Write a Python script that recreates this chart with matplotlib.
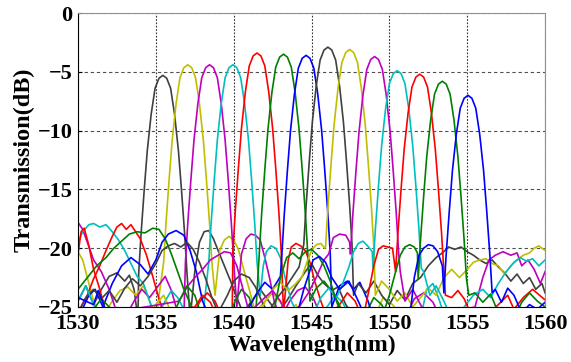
import matplotlib.pyplot as plt
import numpy as np

plt.rcParams['font.family'] = ['Liberation Serif', 'DejaVu Serif']
plt.rcParams['font.weight'] = 'bold'

# peak centre (nm) and peak level (dB) of each channel
centers = [1535.45, 1537.05, 1538.45, 1539.95, 1541.5, 1543.2, 1544.65,
           1546.05, 1547.45, 1549.05, 1550.5, 1551.95, 1553.4, 1555.05]
peaks = [-5.3, -4.4, -4.4, -4.4, -3.4, -3.5, -3.6,
         -2.9, -3.1, -3.7, -4.9, -5.2, -5.8, -7.0]

# passband shape: offset from centre (nm) -> drop below peak (dB)
shape_off = [-1.55, -1.4, -1.2, -1.0, -0.75, -0.5, -0.25, 0, 0.25, 0.5, 0.75, 1.0, 1.2, 1.4, 1.55]
shape_drop = [16.8, 13.5, 9.8, 6.4, 3.3, 1.1, 0.25, 0, 0.25, 1.1, 3.3, 6.4, 9.8, 13.5, 16.8]

# noise floor / sidelobes left and right of each passband
ch01_lw = [1530, 1530.5, 1531, 1531.5, 1532, 1532.5, 1533, 1533.3, 1533.6, 1533.85]
ch01_ld = [-24.5, -23.2, -24.8, -23.5, -22.4, -22.1, -22.8, -22.3, -23.5, -26]
ch01_rw = [1537.2, 1537.5, 1537.8, 1538.1, 1538.4, 1538.7, 1539.0, 1539.4, 1539.8, 1540.2, 1540.6,
           1541.2, 1541.7, 1542.2, 1542.8, 1543.4, 1544, 1544.6, 1545, 1545.4, 1545.8, 1546.3,
           1546.7, 1547.2, 1547.8, 1560]
ch01_rd = [-26, -22, -19.5, -18.6, -18.5, -19.2, -20.2, -21.5, -22.8, -24.2, -25.5,
           -24.4, -23.5, -24.4, -25.5, -24.5, -23.2, -22, -21.3, -22.3, -23, -23.6,
           -23.3, -24.8, -26, -26]

ch02_lw = [1530, 1530.3, 1530.6, 1531, 1531.5, 1532.2, 1532.7, 1533.2, 1533.7, 1534.2, 1534.6, 1535]
ch02_ld = [-20.3, -21, -22.5, -24.5, -26, -24.5, -23.6, -23.3, -24, -23.2, -24.5, -26]
ch02_rw = [1538.8, 1539.1, 1539.4, 1539.7, 1540.0, 1540.3, 1540.6, 1541.0, 1541.4, 1542, 1542.5,
           1543, 1543.5, 1544, 1544.5, 1549, 1549.6, 1550.2, 1551, 1560]
ch02_rd = [-24, -20.2, -19.3, -19.0, -19.3, -20.1, -21.6, -23.5, -25.5, -24.5, -23.8,
           -24.6, -25.5, -24.8, -26, -26, -24.2, -24.8, -26, -26]

ch03_lw = [1530, 1530.3, 1530.6, 1531, 1531.5, 1532, 1532.5, 1533, 1533.6, 1534.1, 1534.6,
           1535.1, 1535.6, 1536, 1536.4, 1536.8]
ch03_ld = [-17.8, -18.4, -19.5, -21, -22, -23.5, -25.5, -26, -24.5, -23.5, -24.2,
           -23.3, -22.4, -23.6, -25.5, -26]
ch03_rw = [1540.2, 1540.5, 1540.8, 1541.1, 1541.4, 1541.7, 1542.0, 1542.3, 1542.6, 1543, 1543.6,
           1544.1, 1544.6, 1545.1, 1545.6, 1546, 1551, 1551.6, 1552.2, 1552.8, 1553.3, 1560]
ch03_rd = [-25, -20.5, -19.2, -18.8, -18.9, -19.3, -20.8, -22.5, -24.5, -26, -24.5,
           -23.6, -23.3, -24.2, -25.8, -26, -26, -24.3, -23.8, -24.6, -26, -26]

ch04_lw = [1530, 1530.3, 1530.7, 1531.0, 1531.4, 1531.8, 1532.2, 1532.6, 1533.0, 1533.4, 1533.8,
           1534.2, 1534.6, 1535, 1535.6, 1536, 1536.4, 1536.8, 1537.2, 1538]
ch04_ld = [-19.5, -18.6, -18.0, -17.9, -18.2, -18.0, -18.6, -19.3, -20.2, -21.3, -22.4,
           -23, -24.5, -26, -24.5, -23.6, -24.2, -25.2, -26, -26]
ch04_rw = [1541.7, 1541.9, 1542.1, 1542.4, 1542.7, 1543.0, 1543.3, 1543.7, 1544.2, 1545, 1546,
           1546.5, 1547, 1547.5, 1552, 1552.4, 1552.8, 1553.2, 1553.6, 1560]
ch04_rd = [-24, -21.5, -20.3, -19.8, -20, -20.8, -22.5, -24.5, -25.8, -26, -25,
           -24, -24.6, -26, -26, -23.5, -23.0, -24.4, -26, -26]

ch05_lw = [1530, 1530.6, 1531.0, 1531.4, 1531.8, 1532.2, 1532.5, 1532.8, 1533.1, 1533.4, 1533.7,
           1534.0, 1534.4, 1534.8, 1535.2, 1535.6, 1537.3, 1537.8, 1538.3, 1538.8, 1539.3, 1539.9]
ch05_ld = [-25.5, -24, -22.6, -21.5, -20.2, -19.0, -18.2, -17.9, -18.4, -18.0, -18.6,
           -19.2, -20.6, -22.4, -24.3, -26, -26, -24.6, -23.8, -24.5, -26, -26]
ch05_rw = [1543.2, 1543.5, 1543.7, 1544.0, 1544.3, 1544.6, 1544.9, 1545.2, 1545.6, 1546, 1546.8,
           1547.3, 1547.8, 1548.3, 1560]
ch05_rd = [-25.5, -21, -19.9, -19.6, -19.8, -20.2, -21.2, -22.8, -24.5, -26, -24.8,
           -23.8, -24.5, -26, -26]

ch06_lw = [1530, 1530.6, 1531.2, 1531.8, 1532.3, 1532.8, 1533.3, 1533.8, 1534.3, 1534.8, 1535.2,
           1535.6, 1536.0, 1536.4, 1536.8, 1537.3, 1537.8, 1539.6, 1540.1, 1540.5, 1541, 1541.4]
ch06_ld = [-23.5, -22.5, -21.5, -20.8, -20, -19.4, -18.8, -18.6, -18.7, -18.3, -18.4,
           -19.2, -20.5, -22, -23.5, -25, -26, -26, -24.5, -23.5, -24.2, -26]
ch06_rw = [1544.9, 1545.3, 1545.8, 1546.2, 1546.7, 1547.2, 1548.5, 1549, 1549.5, 1550, 1560]
ch06_rd = [-24.5, -23.4, -22.8, -23.5, -24.6, -26, -25.5, -24.2, -24.8, -26, -26]

ch07_lw = [1530, 1530.7, 1531.1, 1531.6, 1532.2, 1532.8, 1533.4, 1534.0, 1534.5, 1535.0, 1535.4,
           1535.8, 1536.3, 1536.8, 1537.2, 1537.6, 1538, 1538.5, 1540, 1541, 1541.5, 1542,
           1542.5, 1543]
ch07_ld = [-26, -24, -23.5, -25, -23, -21.5, -20.8, -21.4, -22.2, -21, -19.5,
           -18.8, -18.5, -18.9, -20.2, -22, -24.5, -26, -26, -25, -23.8, -22.9,
           -23.5, -22.4]
ch07_rw = [1546.3, 1546.8, 1547.3, 1547.7, 1548.1, 1548.6, 1549.0, 1560]
ch07_rd = [-25, -23.2, -22.8, -23.5, -22.9, -24.4, -26, -26]

ch08_lw = [1530, 1530.5, 1531, 1531.5, 1532, 1532.5, 1533, 1533.5, 1534, 1534.5, 1535,
           1535.4, 1535.8, 1536.2, 1536.6, 1537.0, 1537.4, 1537.8, 1538.2, 1538.6, 1539, 1539.6,
           1540, 1540.5, 1541, 1541.4, 1541.8, 1542.2, 1542.8, 1543.3, 1543.8, 1544.2]
ch08_ld = [-25.5, -24.2, -23.5, -24.3, -23.6, -24.6, -23.4, -22.6, -23.2, -22.4, -21.3,
           -20.2, -19.8, -19.6, -19.9, -19.5, -20.1, -21.2, -22.6, -24.2, -25.5, -24,
           -22.8, -22.2, -22.5, -23.3, -24.5, -25.5, -24.2, -23.4, -22.4, -21.6]
ch08_rw = [1547.7, 1548, 1548.5, 1549, 1549.5, 1550, 1550.5, 1551, 1551.5, 1552, 1552.5,
           1553, 1553.4, 1553.8, 1554.2, 1554.6, 1555, 1555.4, 1555.8, 1556.2, 1556.6, 1557,
           1557.4, 1557.8, 1558.2, 1558.6, 1559, 1559.4, 1559.8, 1560]
ch08_rd = [-24, -23, -23.8, -22.8, -24, -24.8, -23.6, -24.4, -23, -22.5, -21.5,
           -20.8, -20.4, -19.9, -20.1, -19.9, -20.3, -20.6, -21, -21.3, -21, -21.6,
           -22.1, -22.8, -22.2, -23, -22.5, -23.5, -23, -23.8]

ch09_lw = [1530, 1534.5, 1535, 1535.5, 1536, 1538, 1541.5, 1542, 1542.5, 1543, 1543.5,
           1544, 1544.4, 1544.7, 1545.0, 1545.3, 1545.6, 1545.85]
ch09_ld = [-26, -26, -24.8, -24, -25.5, -26, -26, -24.6, -23.5, -22.9, -23.6,
           -23, -22.4, -21.2, -20.2, -19.7, -19.6, -20]
ch09_rw = [1549.1, 1549.5, 1550, 1550.5, 1551, 1551.5, 1552, 1552.5, 1553, 1553.5, 1554,
           1554.5, 1555, 1555.4, 1555.8, 1556.2, 1556.6, 1557, 1557.4, 1557.8, 1558.2, 1558.6,
           1559, 1559.3, 1559.6, 1560]
ch09_rd = [-24, -22.8, -23.5, -24.5, -23.8, -25, -24.2, -23.4, -24, -22.5, -21.8,
           -22.5, -21.8, -21.2, -21, -20.9, -21.3, -21.5, -22.2, -21.5, -21, -20.6,
           -20.4, -20.0, -19.8, -20.2]

ch10_lw = [1530, 1536.5, 1537.0, 1537.5, 1538.0, 1538.5, 1539.0, 1539.4, 1539.8, 1540.2, 1540.6,
           1541, 1542, 1542.5, 1543, 1543.5, 1544.2, 1544.8, 1545.3, 1545.8, 1546.1, 1546.4,
           1546.8, 1547.2, 1547.45]
ch10_ld = [-26, -24.5, -23.3, -22.5, -21.8, -21, -20.6, -20.3, -20.4, -21.5, -23.5,
           -25.5, -24.2, -23.6, -24.5, -26, -25, -23.8, -22.5, -21, -20.5, -19.1,
           -18.8, -18.9, -19.5]
ch10_rw = [1550.7, 1551, 1551.5, 1552, 1552.5, 1555.5, 1556, 1556.4, 1556.8, 1557.3, 1557.8,
           1558.2, 1558.5, 1558.9, 1559.3, 1559.7, 1560]
ch10_rd = [-22, -24.5, -23.5, -24.8, -26, -25, -22.5, -21, -20.6, -20.3, -20.6,
           -20.4, -21.5, -21, -21.8, -23, -22]

ch11_lw = [1530, 1530.5, 1531, 1531.5, 1545, 1545.6, 1546.1, 1546.6, 1547, 1547.4, 1547.7,
           1548.0, 1548.3, 1548.6, 1548.9]
ch11_ld = [-24.5, -23.2, -24.8, -26, -26, -24.2, -23.4, -24.2, -23, -21.6, -20.3,
           -19.6, -19.4, -19.8, -20.3]
ch11_rw = [1552.2, 1552.6, 1553.0, 1553.5, 1554, 1554.8, 1555.4, 1556, 1556.5, 1557, 1557.5,
           1558, 1558.4, 1558.8, 1559.2, 1559.6, 1560]
ch11_rd = [-22, -24, -23.2, -24.5, -26, -25, -24, -23.5, -24.2, -23, -22,
           -21.2, -20.8, -21.1, -20.9, -21.5, -21]

ch12_lw = [1530, 1530.2, 1530.4, 1530.7, 1531, 1531.4, 1531.8, 1532.5, 1537.5, 1538, 1538.5,
           1539, 1548.3, 1548.7, 1549.0, 1549.3, 1549.6, 1549.9, 1550.2]
ch12_ld = [-20.5, -18.6, -18.3, -19.8, -21.8, -23.5, -25.5, -26, -25, -24, -24.6,
           -26, -26, -23.5, -21.5, -20.1, -19.8, -19.9, -20.0]
ch12_rw = [1553.6, 1554, 1554.4, 1554.8, 1555.2, 1556, 1557, 1557.6, 1558, 1558.6, 1559.2, 1560]
ch12_rd = [-24, -24.2, -23.6, -24.3, -25.5, -26, -24.8, -24, -25.2, -24.2, -23.5, -24.4]

ch13_lw = [1530, 1531, 1531.5, 1532, 1533, 1536, 1536.5, 1537, 1537.5, 1538, 1542.5,
           1543, 1543.4, 1543.8, 1544.2, 1544.6, 1545, 1545.4, 1545.8, 1546.2, 1546.6, 1547,
           1549.5, 1550, 1550.4, 1550.7, 1551.0, 1551.3, 1551.6, 1551.8]
ch13_ld = [-26, -25.2, -24.3, -25, -26, -26, -24.5, -23.2, -24, -26, -26,
           -22.5, -20.8, -20.4, -20.9, -20.3, -20.1, -20.6, -21.5, -22.8, -24.5, -26,
           -26, -24, -22, -20.6, -19.9, -19.7, -19.9, -20.4]
ch13_rw = [1555.1, 1555.5, 1556, 1556.5, 1557, 1558, 1558.5, 1559, 1559.5, 1560]
ch13_rd = [-24, -23.8, -24.6, -23.9, -25.5, -26, -24.6, -23.8, -24.5, -25]

ch14_lw = [1530, 1531, 1531.3, 1531.7, 1532, 1544, 1544.5, 1544.8, 1545.1, 1545.5, 1545.9,
           1546.3, 1546.8, 1547.4, 1548, 1548.5, 1551.3, 1551.6, 1551.9, 1552.2, 1552.5, 1552.8,
           1553.1, 1553.4]
ch14_ld = [-24.2, -24.8, -23.6, -25, -26, -26, -23.5, -22.3, -21, -20.7, -21.2,
           -22.5, -23.5, -22.8, -24.5, -26, -26, -22.5, -20.6, -20.0, -19.7, -19.8,
           -20.3, -21.5]
ch14_rw = [1556.8, 1557.2, 1557.6, 1558, 1558.5, 1559, 1559.5, 1560]
ch14_rd = [-23.5, -24.6, -23.4, -24, -25.5, -24.8, -25.2, -24.6]

floors = [
    (ch01_lw, ch01_ld, ch01_rw, ch01_rd), (ch02_lw, ch02_ld, ch02_rw, ch02_rd),
    (ch03_lw, ch03_ld, ch03_rw, ch03_rd), (ch04_lw, ch04_ld, ch04_rw, ch04_rd),
    (ch05_lw, ch05_ld, ch05_rw, ch05_rd), (ch06_lw, ch06_ld, ch06_rw, ch06_rd),
    (ch07_lw, ch07_ld, ch07_rw, ch07_rd), (ch08_lw, ch08_ld, ch08_rw, ch08_rd),
    (ch09_lw, ch09_ld, ch09_rw, ch09_rd), (ch10_lw, ch10_ld, ch10_rw, ch10_rd),
    (ch11_lw, ch11_ld, ch11_rw, ch11_rd), (ch12_lw, ch12_ld, ch12_rw, ch12_rd),
    (ch13_lw, ch13_ld, ch13_rw, ch13_rd), (ch14_lw, ch14_ld, ch14_rw, ch14_rd),
]

# old MATLAB colour order: k y m c r g b
colors = ['#404040', '#bfbf00', '#bf00bf', '#00bfbf', '#ff0000', '#008000', '#0000ff'] * 2

fig = plt.figure(figsize=(5.71, 3.62), dpi=100)
ax = fig.add_axes([0.1366, 0.152, 0.818, 0.812])

for i in range(len(centers)):
    lw_, ld_, rw_, rd_ = floors[i]
    wl = list(lw_) + [centers[i] + o for o in shape_off] + list(rw_)
    db = list(ld_) + [peaks[i] - d for d in shape_drop] + list(rd_)
    ax.plot(wl, db, color=colors[i], lw=1.2)

ax.set_xlim(1530, 1560)
ax.set_ylim(-25, 0)
ax.set_xticks(np.arange(1530, 1561, 5))
ax.set_yticks(np.arange(-25, 1, 5))
ax.xaxis.grid(True, linestyle=(0, (1.5, 1.5)), color='#303030', lw=0.8)
ax.yaxis.grid(True, linestyle=(0, (3, 2.5)), color='#505050', lw=0.8)
ax.tick_params(direction='in', length=3, labelsize=16)
ax.tick_params(axis='x', pad=5)
ax.tick_params(axis='y', pad=4)
for s in ['top', 'right']:
    ax.spines[s].set_color('#909090')
ax.set_xlabel('Wavelength(nm)', fontsize=17, fontweight='bold', labelpad=1)
ax.set_ylabel('Transmission(dB)', fontsize=17.5, fontweight='bold', labelpad=2)

fig.savefig('out.png', dpi=100)
